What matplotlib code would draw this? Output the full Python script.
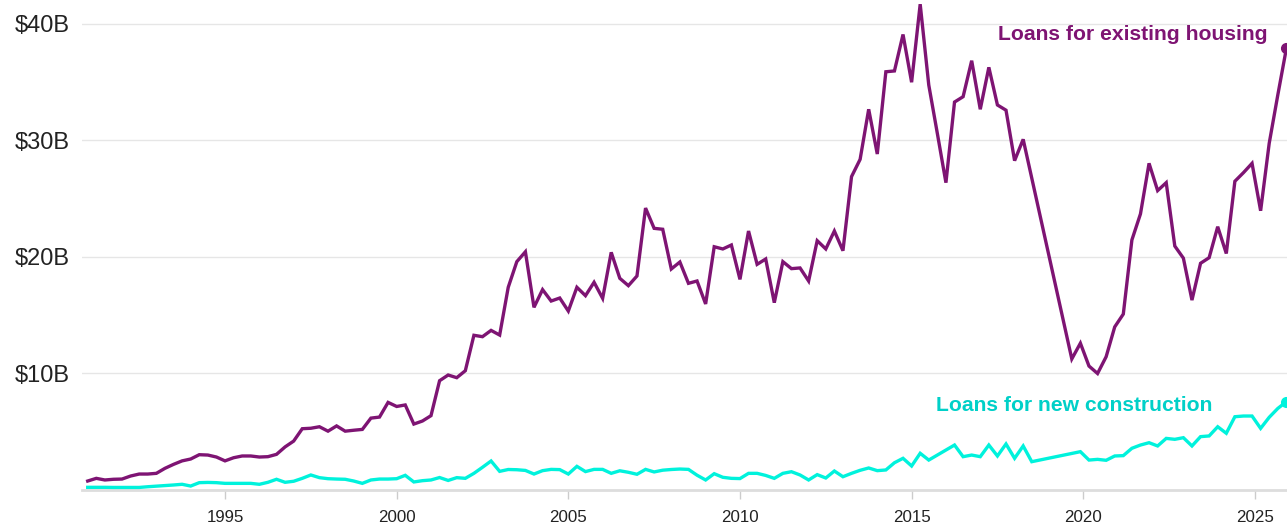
import numpy as np
import pandas as pd
import matplotlib
matplotlib.use("Agg")
import matplotlib.pyplot as plt

# quarterly series, $ billions; a gap in 2018-2019, later points fall at the last month of each quarter
existing_dates_a = pd.date_range("1991-01-01", "2018-04-01", freq="QS-JAN")
existing_vals_a = [
    0.77, 1.0, 0.86, 0.92, 0.94, 1.2, 1.37, 1.37, 1.43, 1.86, 2.2, 2.5,
    2.66, 3.03, 3.0, 2.83, 2.5, 2.77, 2.92, 2.92, 2.83, 2.86, 3.06, 3.7,
    4.2, 5.26, 5.3, 5.43, 5.05, 5.5, 5.05, 5.13, 5.2, 6.17, 6.26, 7.52,
    7.17, 7.3, 5.66, 5.92, 6.38, 9.38, 9.87, 9.64, 10.24, 13.28, 13.16, 13.7,
    13.3, 17.4, 19.6, 20.45, 15.68, 17.2, 16.22, 16.48, 15.36, 17.4, 16.68, 17.83,
    16.45, 20.4, 18.17, 17.54, 18.37, 24.2, 22.46, 22.38, 18.97, 19.57, 17.74, 17.94,
    15.97, 20.88, 20.69, 21.03, 18.08, 22.23, 19.37, 19.83, 16.08, 19.6, 19.0, 19.06,
    17.94, 21.4, 20.69, 22.23, 20.54, 26.9, 28.38, 32.68, 28.84, 35.9, 35.97, 39.1,
    35.0, 41.7, 34.76, 30.6, 26.38, 33.3, 33.76, 36.85, 32.68, 36.28, 33.05, 32.6,
    28.27, 30.1,
]
existing_dates_b = pd.date_range("2019-09-01", "2025-12-01", freq="QS-MAR")
existing_vals_b = [
    11.25, 12.6, 10.64, 10.0, 11.44, 14.0, 15.1, 21.46, 23.7, 28.04, 25.7, 26.38,
    20.94, 19.9, 16.3, 19.46, 19.94, 22.6, 20.3, 26.5, 27.24, 28.04, 23.97, 29.76,
    33.9, 37.9,
]

new_dates_a = pd.date_range("1991-01-01", "2018-07-01", freq="QS-JAN")
new_vals_a = [
    0.23, 0.23, 0.23, 0.22, 0.22, 0.22, 0.22, 0.28, 0.33, 0.38, 0.43, 0.49,
    0.34, 0.63, 0.65, 0.63, 0.57, 0.57, 0.57, 0.57, 0.49, 0.66, 0.92, 0.66,
    0.75, 1.0, 1.29, 1.06, 0.97, 0.94, 0.92, 0.77, 0.57, 0.86, 0.94, 0.94,
    0.97, 1.26, 0.69, 0.8, 0.86, 1.07, 0.82, 1.06, 1.0, 1.43, 1.95, 2.49,
    1.6, 1.76, 1.74, 1.68, 1.37, 1.66, 1.77, 1.75, 1.37, 2.03, 1.58, 1.77,
    1.77, 1.43, 1.65, 1.52, 1.35, 1.77, 1.55, 1.7, 1.76, 1.8, 1.77, 1.27,
    0.86, 1.4, 1.09, 1.0, 0.98, 1.43, 1.43, 1.25, 1.0, 1.43, 1.57, 1.29,
    0.86, 1.32, 1.03, 1.63, 1.14, 1.43, 1.69, 1.89, 1.66, 1.72, 2.34, 2.72,
    2.06, 3.15, 2.57, 3.0, 3.43, 3.86, 2.86, 3.0, 2.86, 3.86, 2.92, 3.95,
    2.72, 3.78, 2.43,
]
new_dates_b = pd.date_range("2019-12-01", "2025-12-01", freq="QS-MAR")
new_vals_b = [
    3.29, 2.57, 2.63, 2.55, 2.92, 2.95, 3.58, 3.86, 4.06, 3.78, 4.43, 4.35,
    4.49, 3.78, 4.58, 4.64, 5.43, 4.87, 6.29, 6.35, 6.35, 5.29, 6.24, 7.0,
    7.58,
]

year_ticks = [1995, 2000, 2005, 2010, 2015, 2020, 2025]
y_ticks = [10, 20, 30, 40]
y_labels = ["$10B", "$20B", "$30B", "$40B"]

PURPLE = "#7e1473"
CYAN = "#00f2dc"
CYAN_TEXT = "#00d0c8"


def to_year(dates):
    return np.array([d.year + (d.month - 1) / 12 for d in dates])


ex_x = np.concatenate([to_year(existing_dates_a), to_year(existing_dates_b)])
ex_y = np.array(existing_vals_a + existing_vals_b)
nc_x = np.concatenate([to_year(new_dates_a), to_year(new_dates_b)])
nc_y = np.array(new_vals_a + new_vals_b)

plt.rcParams["font.family"] = ["Liberation Sans", "DejaVu Sans"]

fig = plt.figure(figsize=(12.87, 5.26), dpi=100)
ax = fig.add_axes([82 / 1287, 36 / 526, 1 - 82 / 1287, 1 - 36 / 526])

ax.plot(nc_x, nc_y, color=CYAN, lw=2.4, solid_joinstyle="miter", zorder=3)
ax.plot(ex_x, ex_y, color=PURPLE, lw=2.4, solid_joinstyle="miter", zorder=3)
ax.plot(ex_x[-1], ex_y[-1], "o", color=PURPLE, ms=7, clip_on=False, zorder=4)
ax.plot(nc_x[-1], nc_y[-1], "o", color=CYAN, ms=7, clip_on=False, zorder=4)

ax.text(2025.38, 39.1, "Loans for existing housing", color=PURPLE,
        fontsize=15.2, fontweight="bold", ha="right", va="center")
ax.text(2023.77, 7.25, "Loans for new construction", color=CYAN_TEXT,
        fontsize=15.2, fontweight="bold", ha="right", va="center")

ax.set_xlim(1990.834, 2025.935)
ax.set_ylim(0, 42.06)

ax.set_yticks(y_ticks)
ax.set_yticklabels(y_labels)
ax.set_xticks(year_ticks)
ax.set_xticklabels([str(y) for y in year_ticks])

ax.grid(axis="y", color="#e6e6e6", lw=1)
ax.set_axisbelow(True)
for s in ["top", "right", "left"]:
    ax.spines[s].set_visible(False)
ax.spines["bottom"].set_color("#dddddd")
ax.spines["bottom"].set_linewidth(2)

ax.tick_params(axis="y", length=0, pad=9, labelsize=17, labelcolor="#222222")
ax.tick_params(axis="x", length=6.5, width=1, color="#cccccc", pad=8,
               labelsize=12.2, labelcolor="#222222")

fig.savefig("out.png", dpi=100)
